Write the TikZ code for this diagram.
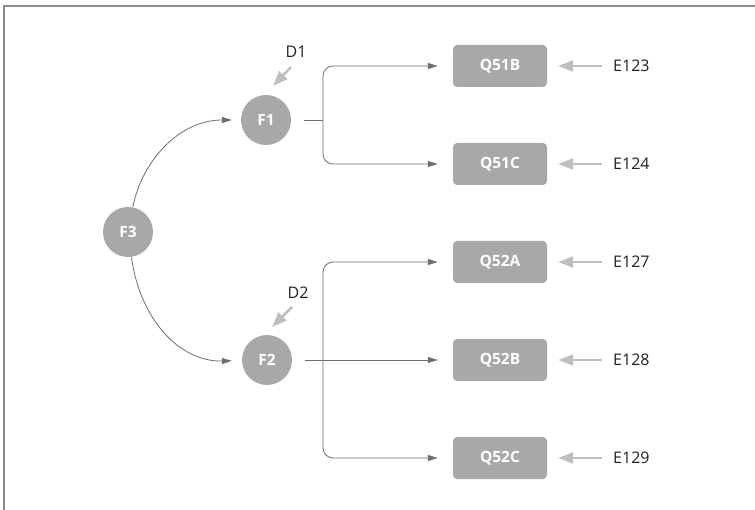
\documentclass[tikz,border=0pt]{standalone}
\usepackage{fontspec}
\setmainfont{Open Sans}
\usetikzlibrary{arrows.meta,calc}
\definecolor{nodegray}{HTML}{A7A8AA}
\definecolor{linegray}{HTML}{6D6E71}
\definecolor{errgray}{HTML}{BCBEC0}
\definecolor{framegray}{HTML}{8B8C8E}
\definecolor{txtgray}{HTML}{231F20}
\begin{document}
\begin{tikzpicture}[x=1pt,y=-1pt,
 latent/.style={circle,fill=nodegray,minimum size=50pt,inner sep=0pt,text=white,font=\bfseries\fontsize{15.5}{18}\selectfont},
 obs/.style={rectangle,rounded corners=4pt,fill=nodegray,minimum width=94pt,minimum height=42pt,inner sep=0pt,text=white,font=\bfseries\fontsize{15.5}{18}\selectfont},
 lbl/.style={inner sep=0pt,font=\fontsize{16}{18}\selectfont,text=txtgray},
 conn/.style={draw=linegray,line width=0.8pt,-{Triangle[length=10pt,width=6pt]}},
 plainline/.style={draw=linegray,line width=0.8pt},
 errarrow/.style={draw=errgray,line width=2.5pt,-{Triangle[length=15pt,width=11pt]}},
]
\useasboundingbox (0,0) rectangle (755,510);
\draw[framegray,line width=2pt] (4,510) -- (4,6) -- (755,6);

% latent factors
\node[latent] (f3) at (128,232) {F3};
\node[latent] (f1) at (266,120) {F1};
\node[latent] (f2) at (267,360) {F2};

% observed
\node[obs] (q51b) at (500,66) {Q51B};
\node[obs] (q51c) at (500,164) {Q51C};
\node[obs] (q52a) at (500,262) {Q52A};
\node[obs] (q52b) at (500,360) {Q52B};
\node[obs] (q52c) at (500,458) {Q52C};

% error labels
\node[lbl,anchor=west] (e123) at (613,66) {E123};
\node[lbl,anchor=west] (e124) at (613,164) {E124};
\node[lbl,anchor=west] (e127) at (613,262) {E127};
\node[lbl,anchor=west] (e128) at (613,360) {E128};
\node[lbl,anchor=west] (e129) at (613,458) {E129};
\node[lbl] (d1) at (296,52) {D1};
\node[lbl] (d2) at (298,293) {D2};

% error arrows
\foreach \e/\q in {e123/q51b,e124/q51c,e127/q52a,e128/q52b,e129/q52c}
  \draw[errarrow,shorten <=11pt,shorten >=11pt] (\e.west) -- (\q.east);
\draw[errarrow] ($(d1)+(-5,15)$) -- ($(f1)+(7,-34)$);
\draw[errarrow] ($(d2)+(-6,14)$) -- ($(f2)+(5,-33)$);

% F3 -> F1, F2
\draw[conn,shorten >=9pt] (f3) .. controls (142,160) and (180,120) .. (f1);
\draw[conn,shorten >=10pt] (f3) .. controls (140,320) and (180,362) .. (f2);

% F1 fan
\coordinate (j1) at ($(f1)+(57,0)$);
\draw[plainline] ($(f1.east)+(13,0)$) -- (j1);
\draw[conn,rounded corners=10pt,shorten >=15pt] (j1) |- (q51b.west);
\draw[conn,rounded corners=10pt,shorten >=15pt] (j1) |- (q51c.west);

% F2 fan
\coordinate (j2) at ($(f2)+(56,0)$);
\draw[conn,shorten >=15pt] ($(f2.east)+(13,0)$) -- (q52b.west);
\draw[conn,rounded corners=10pt,shorten >=15pt] (j2) |- (q52a.west);
\draw[conn,rounded corners=10pt,shorten >=15pt] (j2) |- (q52c.west);
\end{tikzpicture}
\end{document}
